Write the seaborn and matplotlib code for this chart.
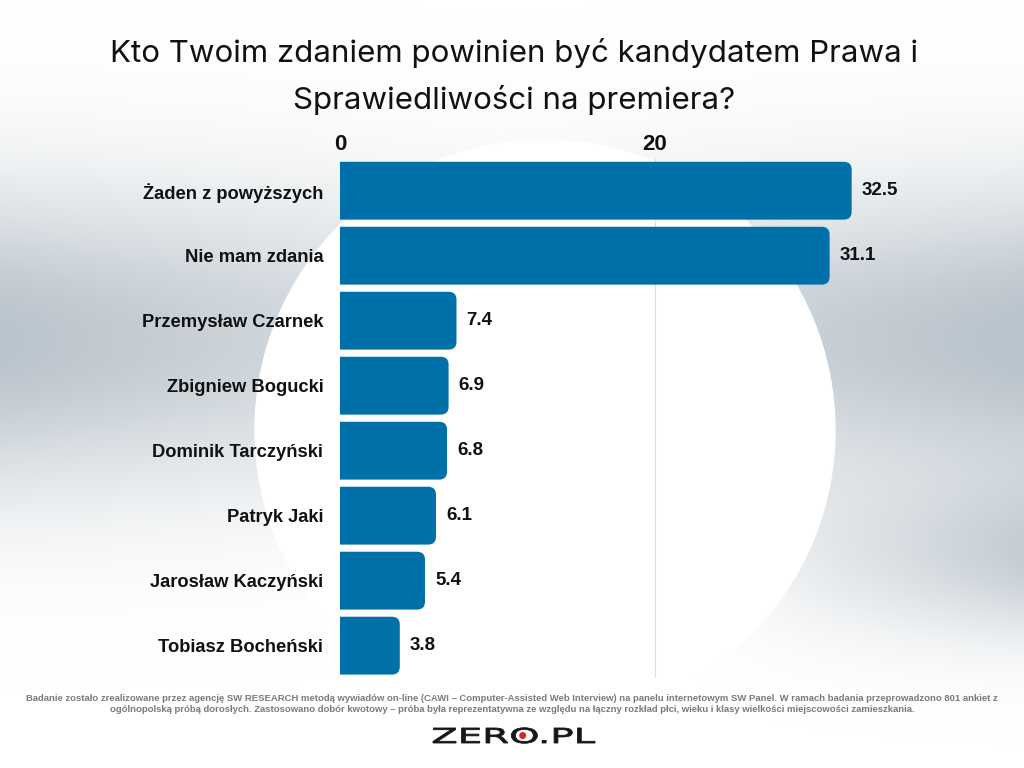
import numpy as np
import pandas as pd
import seaborn as sns
import matplotlib.pyplot as plt
from matplotlib.colors import LinearSegmentedColormap
from matplotlib.patches import FancyBboxPatch, Circle, PathPatch
from matplotlib.textpath import TextPath
from matplotlib.font_manager import FontProperties
from matplotlib.transforms import Affine2D

candidates = ['Żaden z powyższych', 'Nie mam zdania', 'Przemysław Czarnek',
              'Zbigniew Bogucki', 'Dominik Tarczyński', 'Patryk Jaki',
              'Jarosław Kaczyński', 'Tobiasz Bocheński']
percent = [32.5, 31.1, 7.4, 6.9, 6.8, 6.1, 5.4, 3.8]
x_ticks = [0, 20]

title = 'Kto Twoim zdaniem powinien być kandydatem Prawa i\nSprawiedliwości na premiera?'
note = ('Badanie zostało zrealizowane przez agencję SW RESEARCH metodą wywiadów on-line '
        '(CAWI – Computer-Assisted Web Interview) na panelu internetowym SW Panel. '
        'W ramach badania przeprowadzono 801 ankiet z\nogólnopolską próbą dorosłych. '
        'Zastosowano dobór kwotowy – próba była reprezentatywna ze względu na łączny '
        'rozkład płci, wieku i klasy wielkości miejscowości zamieszkania.')

bar_color = '#0070a8'

sns.set_theme(style='white')
plt.rcParams['font.family'] = ['Liberation Sans', 'DejaVu Sans']

df = pd.DataFrame({'kandydat': candidates, 'procent': percent})

fig = plt.figure(figsize=(10.24, 7.68), dpi=100)

# background: soft bluish-grey haze with a white circle behind the bars
bg = fig.add_axes([0, 0, 1, 1], zorder=0)
bg.set_xlim(0, 1024)
bg.set_ylim(768, 0)
bg.axis('off')
yy, xx = np.mgrid[0:768, 0:1024]
haze = np.exp(-((yy - 340) / 150.0) ** 2) * (0.45 + 0.55 * np.abs(xx - 500) / 512)
haze += 0.7 * np.exp(-((yy - 560) / 80.0) ** 2) * np.clip((xx - 700) / 324, 0, 1)
haze = np.clip(haze, 0, 1)
haze_cmap = LinearSegmentedColormap.from_list('haze', ['#ffffff', '#b9c3cb'])
bg.imshow(haze, cmap=haze_cmap, vmin=0, vmax=1, extent=(0, 1024, 768, 0), aspect='auto')
bg.add_patch(Circle((545, 430), 290, color='white', zorder=2))

ax = fig.add_axes([0.332, 0.117, 0.615, 0.677], zorder=1)
ax.patch.set_alpha(0)
sns.barplot(data=df, x='procent', y='kandydat', orient='h', color=bar_color,
            width=0.89, saturation=1, ax=ax)

ax.set_xlim(0, 40)
ax.set_ylim(len(candidates) - 0.5, -0.5)

# swap the plain bars for ones with rounded right corners
for bar in list(ax.patches):
    x0, y0 = bar.get_x(), bar.get_y()
    w, h = bar.get_width(), bar.get_height()
    bar.set_visible(False)
    ax.add_patch(FancyBboxPatch((x0 - 1, y0), w + 1, h,
                                boxstyle='round,pad=0,rounding_size=0.5',
                                mutation_aspect=0.24, facecolor=bar_color,
                                edgecolor='none', zorder=3))

for i, v in enumerate(percent):
    ax.text(v + 0.65, i, f'{v:.1f}', va='center', ha='left', fontsize=13.5,
            fontweight='bold', color='#111111')

ax.xaxis.tick_top()
ax.set_xticks(x_ticks)
ax.set_xticklabels([str(t) for t in x_ticks], fontsize=16, fontweight='bold', color='#111111')
ax.tick_params(axis='x', length=0, pad=2)
ax.tick_params(axis='y', length=0, pad=12)
for lab in ax.get_yticklabels():
    lab.set_fontsize(13.2)
    lab.set_fontweight('bold')
    lab.set_color('#111111')
ax.set_xlabel('')
ax.set_ylabel('')
ax.axvline(20, color='#dddddd', linewidth=0.8, zorder=1)
for s in ax.spines.values():
    s.set_visible(False)

fig.text(0.502, 0.9, title, ha='center', va='center', fontsize=22.5,
         color='#111111', linespacing=1.7, family=['Inter', 'DejaVu Sans'])

fig.text(0.5, 0.083, note, ha='center', va='center', fontsize=6.8,
         fontweight='bold', color='#7a7a7a', linespacing=1.35)

# logo: wide wordmark drawn as a stretched text path
logo_font = FontProperties(family='DejaVu Sans', weight='normal')
logo_size = 20.6
logo_path = TextPath((0, 0), 'ZERO.PL', size=logo_size, prop=logo_font)
ext = logo_path.get_extents()
sx = 162 / ext.width
zer_w = TextPath((0, 0), 'ZER', size=logo_size, prop=logo_font).get_extents().x1
zero_w = TextPath((0, 0), 'ZERO', size=logo_size, prop=logo_font).get_extents().x1
to_px = Affine2D().translate(-ext.x0, 0).scale(sx, -1).translate(433, 743)
bg.add_patch(PathPatch(to_px.transform_path(logo_path), facecolor='#15161a',
                       edgecolor='#15161a', linewidth=0.6, zorder=5))
o_x = 433 + ((zer_w + zero_w) / 2 - ext.x0) * sx
bg.add_patch(Circle((o_x, 735.5), 2.8, color='#e0202a', zorder=7))

fig.savefig('out.png', dpi=100)
